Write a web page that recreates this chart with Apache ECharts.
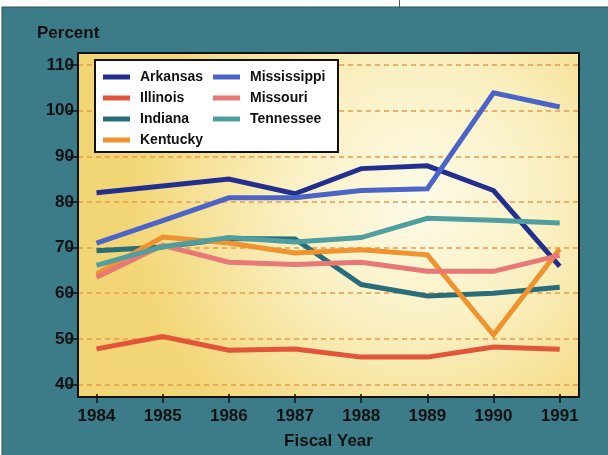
<!DOCTYPE html>
<html>
<head>
<meta charset="utf-8">
<script src="https://cdn.jsdelivr.net/npm/echarts@6/dist/echarts.min.js"></script>
<style>html,body{margin:0;padding:0;background:#fff}#c{width:608px;height:455px}</style>
</head>
<body>
<div id="c"></div>
<script>
var years = [1984, 1985, 1986, 1987, 1988, 1989, 1990, 1991];
var arkansas    = [82.0, 83.5, 85.0, 81.8, 87.3, 87.9, 82.5, 65.9];
var illinois    = [47.8, 50.5, 47.5, 47.8, 46.0, 46.0, 48.2, 47.7];
var indiana     = [69.3, 70.1, 72.0, 71.9, 61.9, 59.4, 60.0, 61.3];
var kentucky    = [64.2, 72.3, 71.0, 68.8, 69.5, 68.4, 50.9, 69.7];
var mississippi = [71.0, 75.9, 80.9, 80.9, 82.5, 82.9, 103.9, 100.8];
var missouri    = [63.5, 70.5, 66.8, 66.3, 66.8, 64.8, 64.8, 68.3];
var tennessee   = [66.1, 70.2, 72.2, 71.2, 72.2, 76.4, 76.0, 75.4];
var yTicks = [40, 50, 60, 70, 80, 90, 100, 110];

var FONT = '"Liberation Sans", Arial, sans-serif';

var seriesDefs = [
  {name: 'Arkansas', data: arkansas, color: '#232f8e'},
  {name: 'Illinois', data: illinois, color: '#e2553a'},
  {name: 'Indiana', data: indiana, color: '#286e7a'},
  {name: 'Kentucky', data: kentucky, color: '#f0922e'},
  {name: 'Mississippi', data: mississippi, color: '#4a64c8'},
  {name: 'Missouri', data: missouri, color: '#e87878'},
  {name: 'Tennessee', data: tennessee, color: '#4f9ea0'}
];

var chart = echarts.init(document.getElementById('c'), null, {renderer: 'canvas'});

var legendCommon = {
  orient: 'vertical',
  top: 70,
  itemGap: 7,
  itemWidth: 27,
  itemHeight: 5,
  icon: 'rect',
  padding: 0,
  textStyle: {fontFamily: FONT, fontWeight: 'bold', fontSize: 14, color: '#111', padding: [0, 0, 0, 5]},
  z: 20
};

var option = {
  animation: false,
  backgroundColor: '#ffffff',
  title: {
    text: 'Percent', left: 37, top: 25, padding: 0,
    textStyle: {fontFamily: FONT, fontWeight: 'bold', fontSize: 17, color: '#111'}
  },
  graphic: [
    {type: 'rect', z: -20, shape: {x: 2, y: 7, width: 610, height: 452},
     style: {fill: '#3c7b88', stroke: '#2d5058', lineWidth: 1}},
    {type: 'line', z: -20, shape: {x1: 399.5, y1: 0, x2: 399.5, y2: 7}, style: {stroke: '#555', lineWidth: 1}},
    {type: 'rect', z: -10, shape: {x: 78, y: 53, width: 501, height: 344},
     style: {fill: new echarts.graphic.RadialGradient(0.68, 0.42, 0.85, [
       {offset: 0, color: '#fdfbe8'},
       {offset: 0.45, color: '#faf0c2'},
       {offset: 1, color: '#f2d574'}
     ])}},
    {type: 'rect', z: 100, shape: {x: 78, y: 53, width: 501, height: 344},
     style: {fill: 'none', stroke: '#111', lineWidth: 2}},
    {type: 'rect', z: 15, shape: {x: 95, y: 60, width: 243, height: 92},
     style: {fill: '#ffffff', stroke: '#111', lineWidth: 2}}
  ],
  legend: [
    Object.assign({}, legendCommon, {left: 103, data: ['Arkansas', 'Illinois', 'Indiana', 'Kentucky']}),
    Object.assign({}, legendCommon, {left: 213, data: ['Mississippi', 'Missouri', 'Tennessee']})
  ],
  grid: {left: 78, right: 29, top: 65, bottom: 67.2, containLabel: false},
  xAxis: {
    type: 'value',
    min: 1983.7204,
    max: 1991.2917,
    offset: 9.5,
    axisLine: {show: false},
    axisTick: {show: true, customValues: years, length: 9, lineStyle: {color: '#111', width: 1.5}},
    axisLabel: {customValues: years, margin: 14, fontFamily: FONT, fontWeight: 'bold', fontSize: 17, color: '#111',
      formatter: function (v) { return String(v); }},
    splitLine: {show: false},
    name: 'Fiscal Year',
    nameLocation: 'middle',
    nameGap: 39,
    nameTextStyle: {fontFamily: FONT, fontWeight: 'bold', fontSize: 17, color: '#111'}
  },
  yAxis: {
    type: 'value',
    min: 40,
    max: 110,
    interval: 10,
    axisLine: {show: false},
    axisTick: {show: true, length: 10, lineStyle: {color: '#111', width: 1.5}},
    axisLabel: {margin: 4, fontFamily: FONT, fontWeight: 'bold', fontSize: 17, color: '#111'},
    splitLine: {show: true, lineStyle: {color: '#e89a4a', width: 1.5, type: [5, 4]}}
  },
  series: seriesDefs.map(function (s) {
    return {
      name: s.name,
      type: 'line',
      data: years.map(function (y, i) { return [y, s.data[i]]; }),
      symbol: 'none',
      color: s.color,
      lineStyle: {width: 5, color: s.color, join: 'miter', cap: 'butt'},
      z: 10
    };
  })
};
chart.setOption(option);
</script>
</body>
</html>
